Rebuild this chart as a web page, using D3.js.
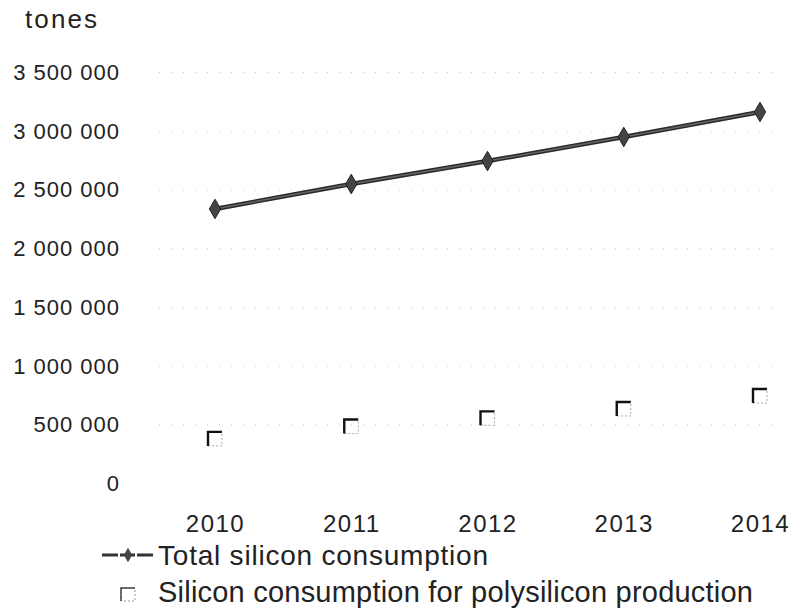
<!DOCTYPE html>
<html>
<head>
<meta charset="utf-8">
<script src="https://cdn.jsdelivr.net/npm/d3@7"></script>
<style>
  body { margin: 0; background: #fff; }
  text { font-family: "Liberation Sans", Arial, sans-serif; fill: #222; }
</style>
</head>
<body>
<div id="chart"></div>
<script>
/* Silicon consumption line + polysilicon markers */

const years = ["2010", "2011", "2012", "2013", "2014"];
const totalSilicon = [2338000, 2550000, 2746000, 2951000, 3164000];
const polySilicon = [380000, 485000, 555000, 635000, 745000];
const yTicks = [0, 500000, 1000000, 1500000, 2000000, 2500000, 3000000, 3500000];

const width = 793,
      height = 612,
      margin = ({top: 72.5, right: 33, bottom: 128.5, left: 147});

let svg = d3.select("#chart")
            .append("svg")
            .attr("width", width)
            .attr("height", height);

const x = d3.scalePoint()
            .domain(years)
            .range([215, 760]);

const y = d3.scaleLinear()
            .domain([0, 3500000])
            .range([height - margin.bottom, margin.top]);

const fmt = d => d3.format(",")(d).replace(/,/g, " ");

// faint dotted grid, like the scan
svg.append("g")
    .selectAll("line")
    .data(yTicks.slice(1))
    .join("line")
    .attr("x1", margin.left + 12)
    .attr("x2", width - 10)
    .attr("y1", d => y(d))
    .attr("y2", d => y(d))
    .attr("stroke", "#ccc")
    .attr("stroke-width", 1)
    .attr("stroke-dasharray", "1,11");

// y axis labels
const yAxis = g => g
        .attr("transform", `translate(${margin.left - 27},0)`)
        .call(d3.axisLeft(y).tickValues(yTicks).tickFormat(fmt).tickSize(0).tickPadding(0))
        .call(g => g.select(".domain").remove())
        .call(g => g.selectAll("text")
            .attr("font-size", 22)
            .attr("letter-spacing", "1px")
            .attr("font-family", "Liberation Sans, Arial, sans-serif")
            .attr("fill", "#222"));

svg.append("g").call(yAxis);

// x axis labels
const xAxis = g => g
        .attr("transform", `translate(0,${height - 100})`)
        .call(d3.axisBottom(x).tickSize(0))
        .call(g => g.select(".domain").remove())
        .call(g => g.selectAll("text")
            .attr("font-size", 24)
            .attr("letter-spacing", "1.5px")
            .attr("font-family", "Liberation Sans, Arial, sans-serif")
            .attr("fill", "#222"));

svg.append("g").call(xAxis);

svg.append("text")
    .attr("x", 25)
    .attr("y", 28)
    .attr("font-size", 26)
    .attr("textLength", 72)
    .text("tones");

// total silicon line
const line = d3.line()
    .x((d, i) => x(years[i]))
    .y(d => y(d));

svg.append("path")
    .datum(totalSilicon)
    .attr("fill", "none")
    .attr("stroke", "#2a2a2a")
    .attr("stroke-width", 4.5)
    .attr("d", line);

svg.append("path")
    .datum(totalSilicon)
    .attr("fill", "none")
    .attr("stroke", "#666")
    .attr("stroke-width", 1.5)
    .attr("d", line);

const diamond = d3.symbol().type(d3.symbolDiamond).size(110);

svg.append("g")
    .selectAll("path")
    .data(totalSilicon)
    .join("path")
    .attr("d", diamond)
    .attr("transform", (d, i) => `translate(${x(years[i])},${y(d)})`)
    .attr("fill", "#444")
    .attr("stroke", "#222")
    .attr("stroke-width", 1);

// polysilicon open squares (scan shows heavy top/left edges)
const sq = 14;
let squares = svg.append("g")
    .selectAll("g")
    .data(polySilicon)
    .join("g")
    .attr("transform", (d, i) => `translate(${x(years[i]) - sq / 2},${y(d) - sq / 2})`);

squares.append("rect")
    .attr("width", sq)
    .attr("height", sq)
    .attr("fill", "none")
    .attr("stroke", "#aaa")
    .attr("stroke-width", 1)
    .attr("stroke-dasharray", "2,2");

squares.append("path")
    .attr("d", `M0,${sq}V0H${sq}`)
    .attr("fill", "none")
    .attr("stroke", "#111")
    .attr("stroke-width", 2.4);

// legend
const leg = svg.append("g");

leg.append("line")
    .attr("x1", 102).attr("x2", 153)
    .attr("y1", 555).attr("y2", 555)
    .attr("stroke", "#333")
    .attr("stroke-width", 3)
    .attr("stroke-dasharray", "16,2,15,2,16");

leg.append("path")
    .attr("d", d3.symbol().type(d3.symbolDiamond).size(60))
    .attr("transform", "translate(128,555)")
    .attr("fill", "#444");

leg.append("text")
    .attr("x", 158)
    .attr("y", 565)
    .attr("font-size", 28)
    .attr("textLength", 330)
    .text("Total silicon consumption");

leg.append("rect")
    .attr("x", 121).attr("y", 588)
    .attr("width", 14).attr("height", 13)
    .attr("fill", "none")
    .attr("stroke", "#999")
    .attr("stroke-width", 1)
    .attr("stroke-dasharray", "2,2");

leg.append("path")
    .attr("d", "M121,601V588H135")
    .attr("fill", "none")
    .attr("stroke", "#444")
    .attr("stroke-width", 1.5);

leg.append("text")
    .attr("x", 158)
    .attr("y", 602)
    .attr("font-size", 29)
    .attr("textLength", 595)
    .text("Silicon consumption for polysilicon production");
</script>
</body>
</html>
